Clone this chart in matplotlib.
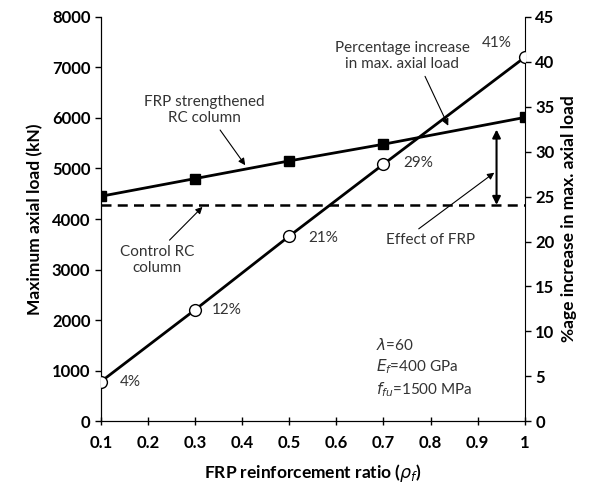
import matplotlib
matplotlib.use("Agg")
import matplotlib.pyplot as plt

plt.rcParams['font.family'] = ['Lato', 'DejaVu Sans']

# data
ratio = [0.1, 0.3, 0.5, 0.7, 1.0]
frp_load = [4450, 4800, 5150, 5480, 6010]
control_load = 4280
pct_increase = [4.4, 12.4, 20.6, 28.6, 40.5]
pct_labels = ["4%", "12%", "21%", "29%", "41%"]
xticks = [0.1, 0.2, 0.3, 0.4, 0.5, 0.6, 0.7, 0.8, 0.9, 1.0]
xticklabels = ["0.1", "0.2", "0.3", "0.4", "0.5", "0.6", "0.7", "0.8", "0.9", "1"]

fig = plt.figure(figsize=(5.93, 4.95), dpi=100)
ax = fig.add_axes([0.170, 0.149, 0.715, 0.817])
ax2 = ax.twinx()

ax.plot(ratio, frp_load, color="black", lw=2, marker="s", ms=6.5, zorder=3)
ax.plot([ratio[0], ratio[-1]], [control_load, control_load], color="black",
        lw=1.8, ls=(0, (4, 2.5)))
ax2.plot(ratio, pct_increase, color="black", lw=2, marker="o", ms=8.5,
         mfc="white", mec="black", mew=1, zorder=3)

ax.set_xlim(0.1, 1.0)
ax.set_ylim(0, 8000)
ax2.set_ylim(0, 45)
ax.set_xticks(xticks)
ax.set_xticklabels(xticklabels)
ax.set_yticks(range(0, 8001, 1000))
ax2.set_yticks(range(0, 46, 5))

for a in (ax, ax2):
    a.spines['top'].set_visible(False)
    a.tick_params(labelsize=12, width=1, length=4)
    for lab in a.get_xticklabels() + a.get_yticklabels():
        lab.set_fontweight("bold")
ax.tick_params(axis='x', direction='inout', length=6, pad=7)
ax.spines['right'].set_visible(False)

ax.set_xlabel(r"FRP reinforcement ratio ($\rho_f$)", fontsize=12.5, fontweight="bold", labelpad=8)
ax.set_ylabel("Maximum axial load (kN)", fontsize=12.5, fontweight="bold", labelpad=6)
ax2.set_ylabel("%age increase in max. axial load", fontsize=12.5, fontweight="bold", labelpad=5)

# percentage labels
offsets = [(14, 0), (12, 0), (14, -1), (14, 1), (-31, 10)]
for x, y, t, off in zip(ratio, pct_increase, pct_labels, offsets):
    ax2.annotate(t, (x, y), xytext=off, textcoords="offset points",
                 fontsize=11, color="#333333", va="center")

txt = dict(fontsize=11, color="#333333", ha="center")

ax.annotate("FRP strengthened\nRC column", xy=(0.41, 5020), xytext=(0.32, 5920),
            arrowprops=dict(arrowstyle="-|>", color="black", lw=0.8, mutation_scale=10,
                            relpos=(0.6, 0)), **txt)
ax.annotate("Control RC\ncolumn", xy=(0.32, 4280), xytext=(0.22, 2950),
            arrowprops=dict(arrowstyle="-|>", color="black", lw=0.8, mutation_scale=10,
                            relpos=(0.6, 1)), **txt)
ax2.annotate("Percentage increase\nin max. axial load", xy=(0.84, 32.6), xytext=(0.74, 39.3),
             arrowprops=dict(arrowstyle="-|>", color="black", lw=0.8, mutation_scale=10,
                             relpos=(0.65, 0)), **txt)
ax.annotate("Effect of FRP", xy=(0.94, 4950), xytext=(0.80, 3580),
            arrowprops=dict(arrowstyle="-|>", color="black", lw=0.8, mutation_scale=10,
                            relpos=(0.3, 1)), va="center", **txt)

# double arrow showing effect of FRP
ax.annotate("", xy=(0.94, control_load), xytext=(0.94, 5770),
            arrowprops=dict(arrowstyle="<|-|>", color="black", lw=1.5, mutation_scale=12,
                            shrinkA=0, shrinkB=0))

ax.text(0.685, 1050, "$\\lambda$=60\n$E_f$=400 GPa\n$f_{fu}$=1500 MPa", fontsize=11,
        color="#333333", va="center", ha="left", linespacing=1.3)

fig.savefig("out.png", dpi=100)
